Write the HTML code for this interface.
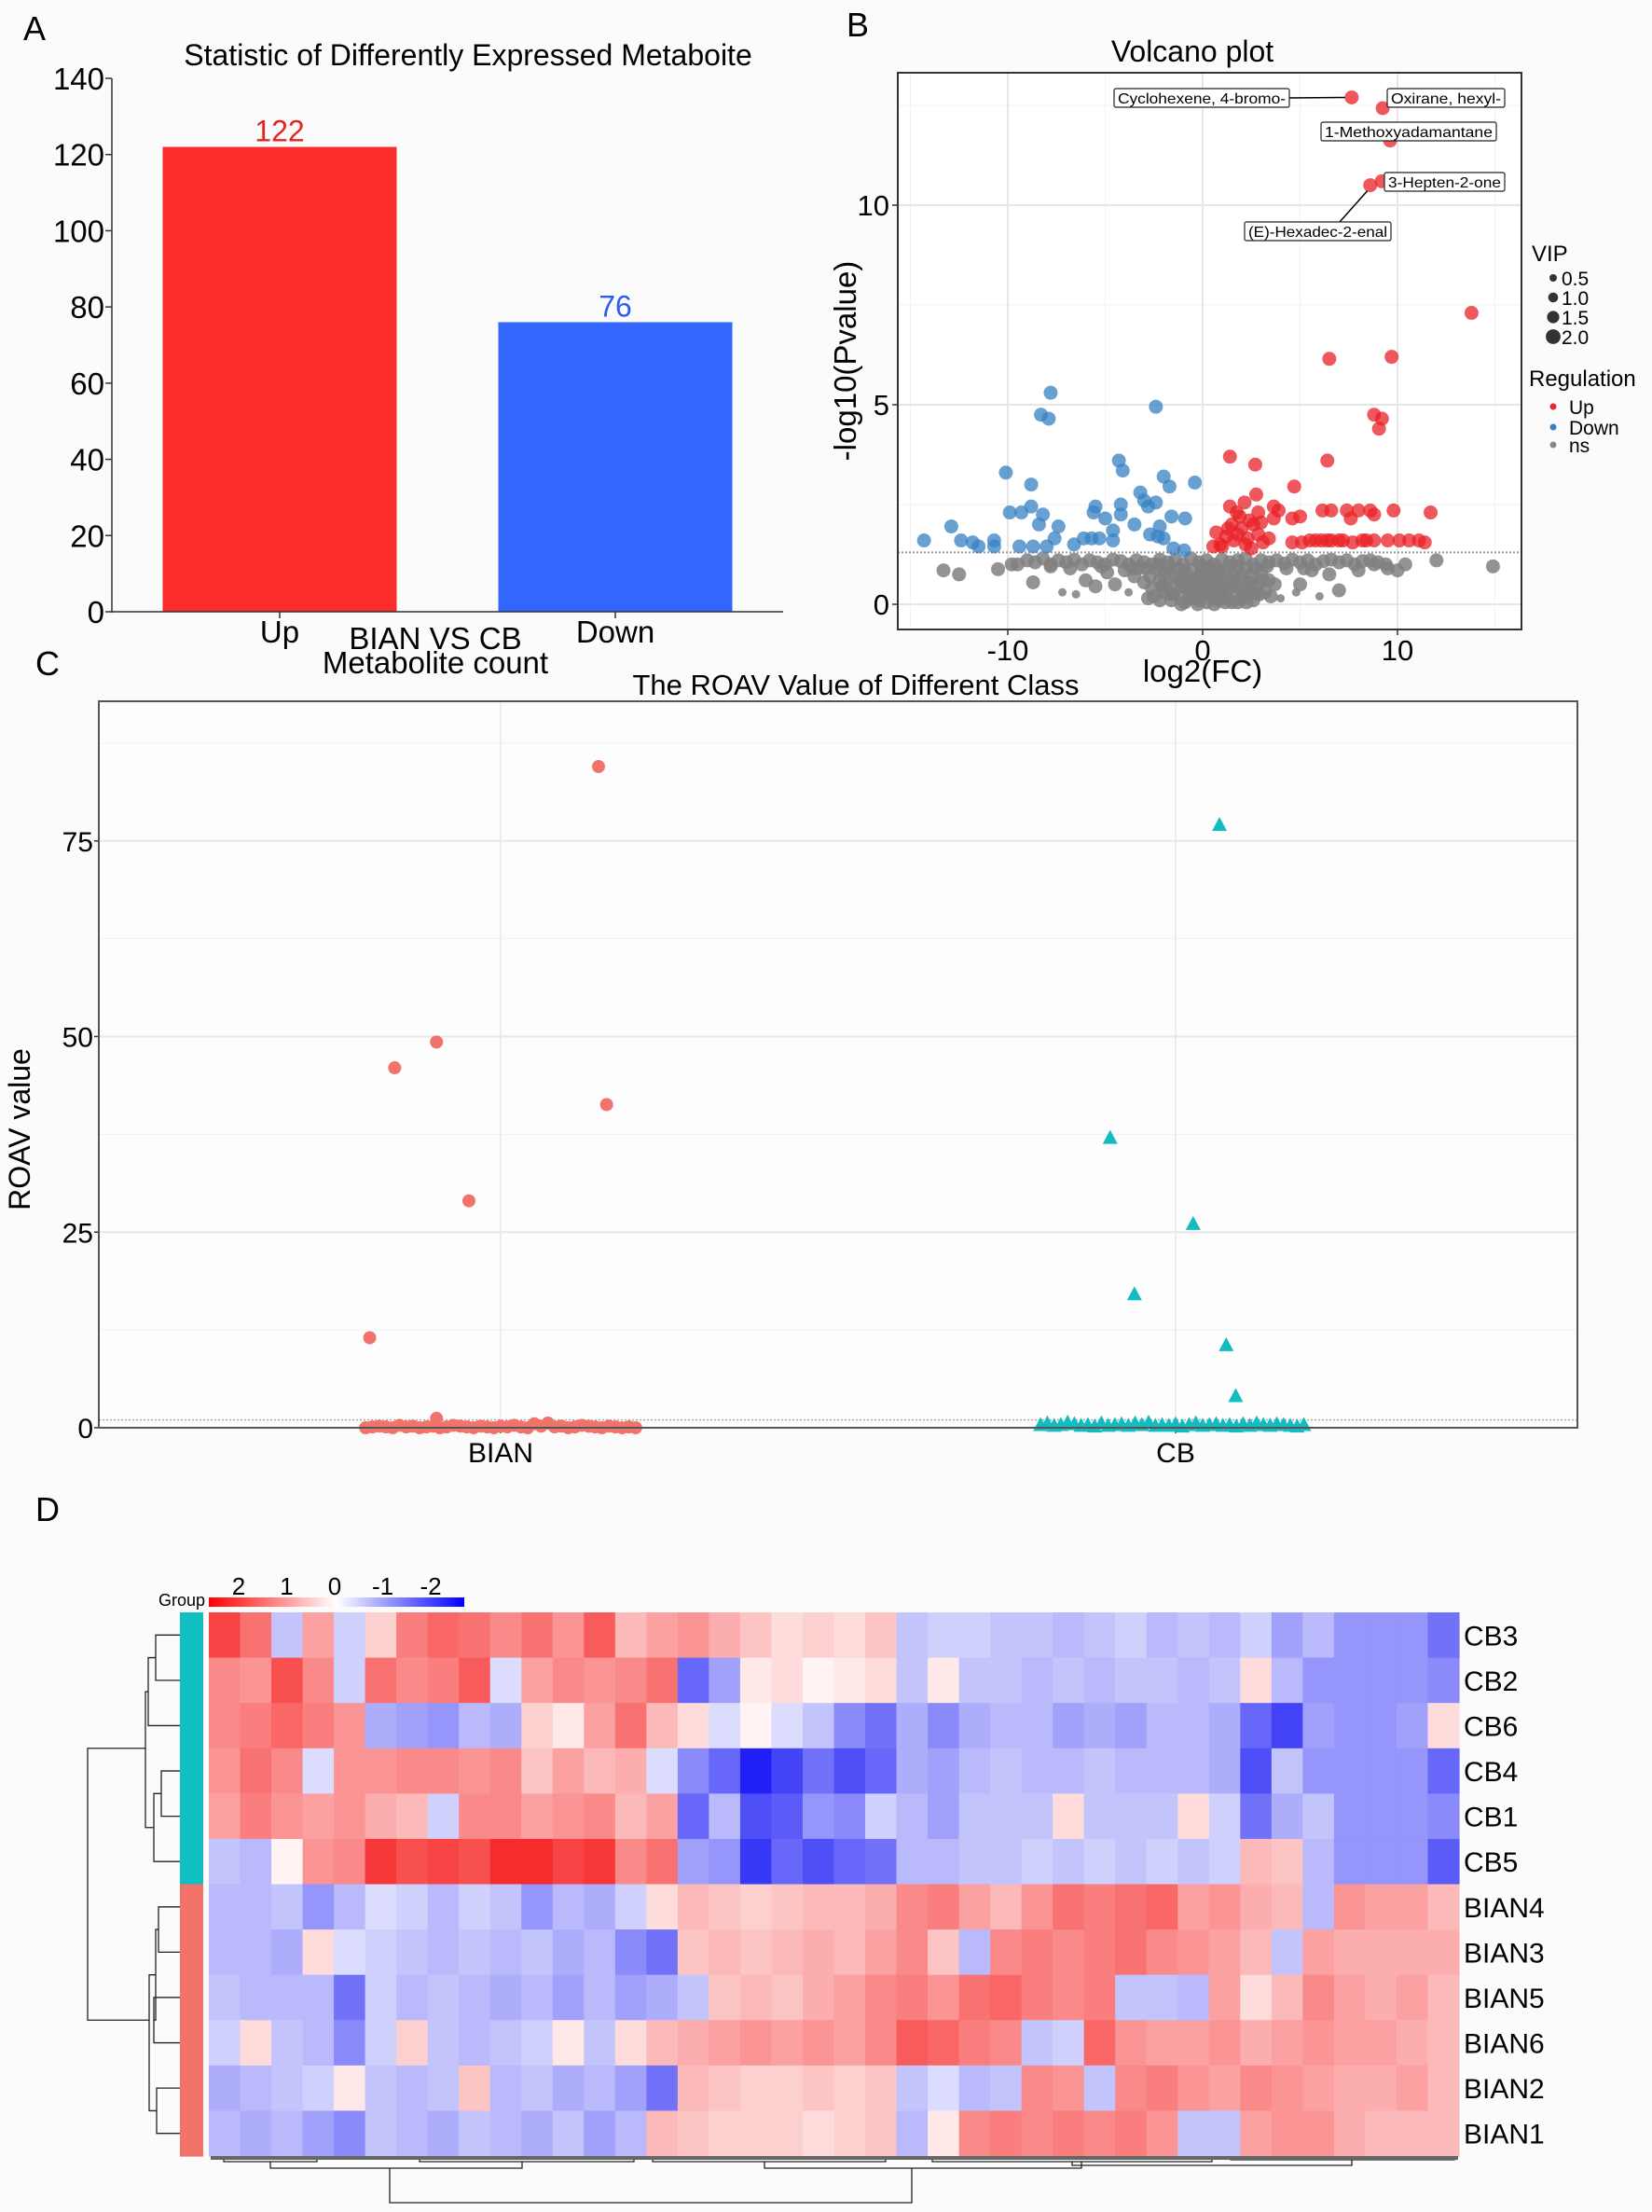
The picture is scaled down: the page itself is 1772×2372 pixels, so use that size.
<!DOCTYPE html>
<html><head><meta charset="utf-8"><title>Metabolite figure</title>
<style>
html,body{margin:0;padding:0;background:#fbfbfb;}
svg{display:block;font-family:"Liberation Sans",Arial,sans-serif;}
</style></head>
<body>
<svg id="fig" width="1772" height="2372" viewBox="0 0 1772 2372" xmlns="http://www.w3.org/2000/svg">
<rect x="0" y="0" width="1772" height="2372" fill="#fbfbfb"/>
<g id="pA"></g>
<g id="pB"></g>
<g id="pC"></g>
<g id="pD"></g>
</svg>
<script>
// ---------- Panel A data ----------
const barCats = ["Up", "Down"];
const barVals = [122, 76];
const barTicks = [0, 20, 40, 60, 80, 100, 120, 140];

// ---------- Panel B data ----------
const upX = [7.65, 9.24, 9.62, 9.19, 8.6, 13.8, 6.5, 9.7, 8.8, 9.2, 9.05, 6.4, 1.4, 2.7, 4.7, 2.75,
  1.4, 1.75, 2.15, 1.5, 2.0, 2.4, 1.2, 0.7, 0.55, 1.6, 2.3, 2.85, 3.4, 3.65, 3.9, 3.65, 4.6, 5.0, 2.85,
  4.6, 5.1, 5.5, 6.1, 6.6, 7.2, 7.7, 8.2, 8.8, 9.5, 10.1, 11.1, 11.4, 6.15, 6.6, 7.4, 7.6, 8.0, 8.6, 8.8,
  11.7, 9.8, 1.9, 2.2, 1.3, 2.6, 1.0, 3.1, 0.9, 1.8, 2.5, 3.0, 6.4, 7.0, 5.8, 10.6, 8.4];
const upY = [12.7, 12.43, 11.62, 10.6, 10.5, 7.3, 6.15, 6.2, 4.75, 4.65, 4.4, 3.6, 3.7, 3.5, 2.95, 2.75,
  2.45, 2.3, 2.55, 2.0, 1.9, 2.1, 1.7, 1.8, 1.45, 1.6, 1.65, 1.75, 1.65, 2.45, 2.35, 2.15, 2.15, 2.2, 2.3,
  1.55, 1.55, 1.6, 1.6, 1.6, 1.6, 1.55, 1.6, 1.6, 1.6, 1.6, 1.6, 1.55, 2.35, 2.35, 2.35, 2.15, 2.35, 2.35, 2.25,
  2.3, 2.35, 2.2, 1.5, 1.9, 2.0, 1.45, 1.55, 1.5, 1.75, 1.4, 2.05, 1.6, 1.6, 1.6, 1.6, 1.6];
const downX = [-7.8, -8.3, -7.9, -2.4, -4.3, -4.1, -10.1, -2.0, -1.7, -0.4, -8.8, -3.2, -9.9, -9.3, -8.8, -8.2,
  -8.4, -7.4, -7.6, -12.9, -14.3, -12.4, -11.8, -11.5, -10.7, -10.7, -9.4, -8.7, -8.0, -6.6, -6.1, -5.7, -5.5,
  -5.6, -5.0, -4.6, -4.2, -4.2, -3.5, -2.8, -2.4, -2.7, -2.3, -2.0, -1.6, -0.9, -1.5, -0.95, -4.6, -2.2, -5.3, -3.0];
const downY = [5.3, 4.75, 4.65, 4.95, 3.6, 3.35, 3.3, 3.2, 2.95, 3.05, 3.0, 2.8, 2.3, 2.3, 2.45, 2.25,
  2.0, 1.95, 1.65, 1.95, 1.6, 1.6, 1.55, 1.45, 1.6, 1.45, 1.45, 1.45, 1.45, 1.5, 1.65, 1.65, 2.45,
  2.3, 2.15, 1.85, 2.5, 2.25, 2.0, 2.45, 2.55, 1.75, 1.7, 1.65, 2.2, 2.15, 1.4, 1.35, 1.6, 1.95, 1.65, 2.6];
const nsX = [-13.3, -12.5, -10.5, -9.5, -9.0, -8.6, -8.2, -7.8, -7.4, -7.0, -6.6, -6.2, -5.8, -5.4, -5.0, -4.6,
  -4.2, -3.8, -3.4, -3.0, -2.6, -2.2, -1.8, -1.4, -1.0, -0.6, -0.2, 0.2, 0.6, 1.0, 1.4, 1.8, 2.2, 2.6, 3.0, 3.4,
  3.8, 4.2, 4.6, 5.0, 5.4, 5.8, 6.2, 6.6, 7.0, 7.4, 7.8, 8.2, 8.6, 9.0, 9.4, 12.0, 14.9, 10.0, 8.0, 6.5, 5.0, 4.8,
  6.0, 7.0, 3.7, 3.5, 4.0, 9.5, -8.7, -7.2, -6.5, -5.5, -6.0, -4.5, -3.8, -3.5, -2.8,
  -2.4, -2.2, -2.0, -1.8, -1.6, -1.5, -1.3, -1.2, -1.0, -0.9, -0.8, -0.6, -0.5, -0.4, -0.2, -0.1, 0.0, 0.2, 0.3,
  0.4, 0.5, 0.7, 0.8, 0.9, 1.1, 1.2, 1.3, 1.5, 1.6, 1.7, 1.9, 2.0, 2.2, 2.3, 2.5, 2.6, 2.8, 3.0, 3.2, -1.9, -0.7,
  0.1, 1.0, 1.8, -1.1, 0.6, -0.3, 2.4, -2.6, 3.4, -3.0, -2.9, 1.4, -1.4, 0.95, -0.05,
  -2.7, -2.5, -2.3, -2.1, -1.7, -1.5, -1.2, -0.95, -0.75, -0.45, -0.25, 0.05, 0.25, 0.45, 0.65, 0.85, 1.15, 1.35, 1.55, 1.75,
  2.05, 2.25, 2.45, 2.7, 2.9, 3.1, 3.3, -3.3, -2.0, -1.0, 0.0, 1.0, 2.0, -1.6, -0.4, 0.7, 1.7, 2.7, -2.2, 0.35,
  -4.0, -5.2, -6.8, -3.6, 4.3, 5.6, -7.8, -9.8, 8.8, 10.4, 5.2, -4.9];
const nsY = [0.85, 0.75, 0.88, 1.0, 1.1, 1.05, 1.15, 1.0, 1.1, 1.05, 1.12, 1.0, 1.1, 1.05, 1.0, 1.12,
  1.08, 1.0, 1.1, 1.05, 1.0, 1.12, 1.05, 1.1, 1.0, 1.15, 1.05, 1.1, 1.0, 1.12, 1.05, 1.1, 1.15, 1.0, 1.1, 1.05,
  1.1, 1.02, 1.12, 1.05, 1.1, 1.0, 1.08, 1.12, 1.05, 1.1, 1.0, 1.08, 1.1, 1.05, 1.0, 1.1, 0.95, 0.85, 0.85, 0.75, 0.5, 0.3,
  0.2, 0.35, 0.5, 0.2, 0.15, 0.9, 0.55, 0.3, 0.25, 0.45, 0.6, 0.5, 0.3, 0.7, 0.15,
  0.9, 0.6, 0.3, 0.8, 0.1, 0.5, 0.9, 0.3, 0.65, 0.05, 0.4, 0.85, 0.2, 0.55, 0.1, 0.75, 0.35, 0.05, 0.6,
  0.95, 0.25, 0.7, 0.1, 0.45, 0.85, 0.2, 0.55, 0.05, 0.75, 0.35, 0.6, 0.15, 0.9, 0.4, 0.7, 0.1, 0.5, 0.8, 0.3, 0.45, 0.15,
  0.45, 0.3, 0.05, 0.0, 0.0, 0.3, 0.25, 0.4, 0.6, 0.55, 0.9, 0.95, 0.7, 0.65, 0.95,
  0.7, 0.2, 1.0, 0.45, 0.95, 0.25, 0.6, 0.85, 0.55, 0.65, 0.0, 0.8, 0.2, 0.35, 0.5, 0.85, 0.05, 0.4, 0.65, 0.95,
  0.75, 0.05, 0.55, 0.9, 0.25, 0.6, 0.95, 0.9, 0.75, 0.45, 0.55, 0.15, 0.35, 0.25, 0.4, 0.9, 0.5, 0.3, 0.1, 0.8,
  0.85, 0.95, 0.9, 0.9, 0.9, 0.85, 0.95, 1.0, 1.0, 1.0, 0.9, 0.8];
const volXTicks = [-10, 0, 10];
const volYTicks = [0, 5, 10];
const labelNames = ["Cyclohexene, 4-bromo-", "Oxirane, hexyl-", "1-Methoxyadamantane", "3-Hepten-2-one", "(E)-Hexadec-2-enal"];

// ---------- Panel C data ----------
const roavCats = ["BIAN", "CB"];
const bianJit = [0.145, -0.095, -0.157, 0.157, -0.047, -0.194, -0.095,
  -0.2, -0.19, -0.18, -0.17, -0.16, -0.15, -0.14, -0.13, -0.12, -0.11, -0.1, -0.09, -0.08, -0.07, -0.06, -0.05, -0.04, -0.03,
  -0.02, -0.01, 0.0, 0.01, 0.02, 0.03, 0.04, 0.05, 0.06, 0.07, 0.08, 0.09, 0.1, 0.11, 0.12, 0.13, 0.14, 0.15, 0.16, 0.17, 0.18, 0.19, 0.2];
const bianVal = [84.5, 49.3, 46, 41.3, 29, 11.5, 1.2,
  0, 0.1, 0.2, 0.1, 0, 0.3, 0.1, 0.2, 0, 0.1, 0.2, 0, 0.1, 0.3, 0.2, 0.1, 0, 0.2,
  0.1, 0, 0.2, 0.1, 0.3, 0.1, 0, 0.5, 0.2, 0.6, 0.1, 0.2, 0, 0.1, 0.3, 0.2, 0.1, 0, 0.2, 0.1, 0, 0.1, 0];
const cbJit = [0.065, -0.097, 0.026, -0.061, 0.075, 0.089,
  -0.2, -0.19, -0.18, -0.17, -0.16, -0.15, -0.14, -0.13, -0.12, -0.11, -0.1, -0.09, -0.08, -0.07, -0.06, -0.05, -0.04, -0.03,
  -0.02, -0.01, 0.0, 0.01, 0.02, 0.03, 0.04, 0.05, 0.06, 0.07, 0.08, 0.09, 0.1, 0.11, 0.12, 0.13, 0.14, 0.15, 0.16, 0.17, 0.18, 0.19];
const cbVal = [77, 37, 26, 17, 10.5, 4,
  0.3, 0.5, 0.2, 0.3, 0.6, 0.4, 0.2, 0.3, 0.1, 0.5, 0.2, 0.3, 0.4, 0.2, 0.5, 0.3, 0.6, 0.2,
  0.3, 0.2, 0.4, 0.1, 0.3, 0.5, 0.2, 0.3, 0.4, 0.2, 0.3, 0.1, 0.4, 0.2, 0.5, 0.3, 0.2, 0.4, 0.3, 0.2, 0.1, 0.3];
const roavTicks = [0, 25, 50, 75];

// ---------- Panel D data ----------
const hmRows = ["CB3", "CB2", "CB6", "CB4", "CB1", "CB5", "BIAN4", "BIAN3", "BIAN5", "BIAN6", "BIAN2", "BIAN1"];
const hmCB3 = [1.6,1.2,-0.5,0.8,-0.4,0.4,1.1,1.3,1.2,1.0,1.2,0.9,1.4,0.6,0.8,0.9,0.7,0.5,0.3,0.4,0.3,0.5,-0.5,-0.4,-0.4,-0.5,-0.5,-0.6,-0.5,-0.4,-0.6,-0.5,-0.6,-0.4,-0.8,-0.6,-0.9,-0.9,-0.9,-1.2];
const hmCB2 = [1.0,0.9,1.5,1.0,-0.4,1.2,1.0,1.1,1.4,-0.3,0.8,1.0,0.9,1.0,1.2,-1.3,-0.8,0.2,0.3,0.1,0.2,0.3,-0.5,0.2,-0.5,-0.5,-0.6,-0.5,-0.6,-0.5,-0.5,-0.6,-0.5,0.3,-0.6,-0.9,-0.9,-0.9,-0.9,-1.0];
const hmCB6 = [1.0,1.1,1.3,1.1,0.9,-0.7,-0.8,-0.9,-0.6,-0.7,0.4,0.2,0.8,1.2,0.6,0.3,-0.3,0.1,-0.3,-0.5,-1.0,-1.2,-0.7,-1.0,-0.7,-0.6,-0.6,-0.8,-0.7,-0.8,-0.6,-0.6,-0.7,-1.3,-1.6,-0.8,-0.9,-0.9,-0.8,0.3];
const hmCB4 = [0.9,1.2,1.0,-0.3,0.9,0.9,1.0,1.0,0.9,1.0,0.5,0.8,0.6,0.7,-0.3,-1.0,-1.3,-1.9,-1.6,-1.2,-1.5,-1.3,-0.7,-0.8,-0.6,-0.5,-0.6,-0.6,-0.5,-0.6,-0.6,-0.6,-0.7,-1.5,-0.5,-0.9,-0.9,-0.9,-0.9,-1.3];
const hmCB1 = [0.8,1.1,0.9,0.8,0.9,0.7,0.6,-0.4,1.0,1.0,0.8,0.9,1.0,0.6,0.8,-1.3,-0.6,-1.5,-1.4,-0.9,-1.0,-0.4,-0.6,-0.8,-0.5,-0.5,-0.5,0.3,-0.5,-0.5,-0.5,0.3,-0.4,-1.2,-0.7,-0.5,-0.9,-0.9,-0.9,-1.0];
const hmCB5 = [-0.5,-0.6,0.1,0.9,1.0,1.7,1.5,1.6,1.5,1.8,1.8,1.6,1.7,1.0,1.2,-0.8,-0.9,-1.7,-1.3,-1.5,-1.3,-1.2,-0.6,-0.6,-0.5,-0.5,-0.4,-0.5,-0.4,-0.5,-0.4,-0.5,-0.4,0.6,0.5,-0.6,-0.9,-0.9,-0.9,-1.4];
const hmBIAN4 = [-0.6,-0.6,-0.5,-0.9,-0.6,-0.3,-0.4,-0.6,-0.4,-0.5,-0.9,-0.6,-0.7,-0.4,0.3,0.6,0.5,0.4,0.5,0.6,0.6,0.7,1.0,1.1,0.8,0.6,0.9,1.2,1.1,1.2,1.3,0.8,0.9,0.7,0.6,-0.6,0.9,0.8,0.8,0.6];
const hmBIAN3 = [-0.6,-0.6,-0.7,0.3,-0.3,-0.4,-0.5,-0.6,-0.5,-0.6,-0.5,-0.7,-0.6,-1.0,-1.2,0.5,0.6,0.5,0.6,0.7,0.6,0.8,1.0,0.5,-0.6,1.0,1.1,1.0,1.1,1.2,1.0,0.9,0.8,0.6,-0.5,0.8,0.7,0.7,0.7,0.7];
const hmBIAN5 = [-0.5,-0.6,-0.6,-0.6,-1.2,-0.4,-0.6,-0.5,-0.6,-0.7,-0.6,-0.8,-0.6,-0.8,-0.7,-0.5,0.5,0.6,0.5,0.7,0.8,1.0,1.1,0.9,1.2,1.3,1.1,1.0,1.1,-0.5,-0.5,-0.6,0.8,0.3,0.6,1.0,0.8,0.7,0.8,0.6];
const hmBIAN6 = [-0.4,0.3,-0.5,-0.6,-1.0,-0.4,0.4,-0.5,-0.6,-0.5,-0.4,0.2,-0.5,0.3,0.6,0.7,0.8,0.9,0.8,0.9,0.8,1.0,1.4,1.3,1.1,1.0,-0.5,-0.4,1.3,0.9,0.8,0.8,0.9,0.7,0.8,0.9,0.8,0.8,0.7,0.6];
const hmBIAN2 = [-0.7,-0.6,-0.5,-0.4,0.2,-0.5,-0.6,-0.5,0.5,-0.6,-0.5,-0.7,-0.6,-0.8,-1.2,0.6,0.5,0.4,0.4,0.5,0.4,0.5,-0.5,-0.3,-0.6,-0.5,1.0,0.9,-0.5,1.0,1.1,0.9,0.8,1.0,0.9,0.8,0.7,0.7,0.8,0.6];
const hmBIAN1 = [-0.6,-0.7,-0.6,-0.8,-1.0,-0.5,-0.6,-0.7,-0.5,-0.6,-0.7,-0.5,-0.8,-0.6,0.6,0.5,0.4,0.4,0.4,0.3,0.4,0.5,-0.6,0.2,1.0,1.1,1.0,1.1,1.0,1.1,0.9,-0.5,-0.5,0.8,0.9,0.9,0.7,0.6,0.6,0.6];
const hmGroups = ["CB","CB","CB","CB","CB","CB","BIAN","BIAN","BIAN","BIAN","BIAN","BIAN"];
const legendTicks = [2, 1, 0, -1, -2];

// ---------- helpers ----------
const NS = "http://www.w3.org/2000/svg";
function mk(parent, tag, attrs, text) {
  const e = document.createElementNS(NS, tag);
  for (const k in attrs) e.setAttribute(k, attrs[k]);
  if (text !== undefined) e.textContent = text;
  parent.appendChild(e);
  return e;
}

// ================= Panel A =================
(function () {
  const g = document.getElementById("pA");
  const y = v => 656 - v * (572 / 140);
  const xs = [300, 660];
  const bw = 251;
  let t = mk(g, "text", {x: 37, y: 43, "font-size": 36, "text-anchor": "middle"}, "A");
  
  
  t = mk(g, "text", {x: 502, y: 70, "font-size": 32, "text-anchor": "middle"}, "Statistic of Differently Expressed Metaboite");
  
  
  barTicks.forEach(v => {
    const tk = mk(g, "line", {x1: 113, x2: 120, y1: y(v), y2: y(v), stroke: "#333", "stroke-width": 1.5});
    
    
    const tl = mk(g, "text", {x: 112, y: y(v) + 12, "font-size": 33, "text-anchor": "end"}, String(v));
    
    
  });
  barCats.forEach((c, i) => {
    const col = i === 0 ? "#fa2d2b" : "#3366fe";
    const r = mk(g, "rect", {x: xs[i] - bw / 2, y: y(barVals[i]), width: bw, height: y(0) - y(barVals[i]), fill: col});
    
    
    const vl = mk(g, "text", {x: xs[i], y: y(barVals[i]) - 6, "font-size": 32, "text-anchor": "middle", fill: i === 0 ? "#e52420" : "#2a5ef0"}, String(barVals[i]));
    
    
    const xt = mk(g, "line", {x1: xs[i], x2: xs[i], y1: 656, y2: 663, stroke: "#333", "stroke-width": 1.5});
    
    
    const xl = mk(g, "text", {x: xs[i], y: 689, "font-size": 33, "text-anchor": "middle"}, c);
    
    
  });
  let a = mk(g, "line", {x1: 120, x2: 120, y1: 84, y2: 657, stroke: "#333", "stroke-width": 1.5});
  
  
  a = mk(g, "line", {x1: 119, x2: 840, y1: 656, y2: 656, stroke: "#333", "stroke-width": 1.5});
  
  
  t = mk(g, "text", {x: 467, y: 696, "font-size": 33, "text-anchor": "middle"}, "BIAN VS CB");
  
  
  t = mk(g, "text", {x: 467, y: 722, "font-size": 33, "text-anchor": "middle"}, "Metabolite count");
  
  
})();

// ================= Panel B =================
(function () {
  const g = document.getElementById("pB");
  const L = 963, R = 1632, T = 78, B = 675;
  const x = v => 1290 + v * 20.9;
  const y = v => 648 - v * 42.8;
  let t = mk(g, "text", {x: 920, y: 39, "font-size": 36, "text-anchor": "middle"}, "B");
  
  
  t = mk(g, "text", {x: 1279, y: 66, "font-size": 32, "text-anchor": "middle"}, "Volcano plot");
  
  
  const bg = mk(g, "rect", {x: L, y: T, width: R - L, height: B - T, fill: "#ffffff"});
  
  
  [-15, -5, 5, 15].forEach(v => {
    const gl = mk(g, "line", {x1: x(v), x2: x(v), y1: T, y2: B, stroke: "#f2f2f2", "stroke-width": 1});
    
    
  });
  [2.5, 7.5, 12.5].forEach(v => {
    const gl = mk(g, "line", {x1: L, x2: R, y1: y(v), y2: y(v), stroke: "#f2f2f2", "stroke-width": 1});
    
    
  });
  volXTicks.forEach(v => {
    const gl = mk(g, "line", {x1: x(v), x2: x(v), y1: T, y2: B, stroke: "#e6e6e6", "stroke-width": 2});
    
    
    const tk = mk(g, "line", {x1: x(v), x2: x(v), y1: B, y2: B + 6, stroke: "#333", "stroke-width": 1.5});
    
    
    const tl = mk(g, "text", {x: x(v), y: B + 33, "font-size": 31, "text-anchor": "middle"}, String(v));
    
    
  });
  volYTicks.forEach(v => {
    const gl = mk(g, "line", {x1: L, x2: R, y1: y(v), y2: y(v), stroke: "#e6e6e6", "stroke-width": 2});
    
    
    const tk = mk(g, "line", {x1: L - 6, x2: L, y1: y(v), y2: y(v), stroke: "#333", "stroke-width": 1.5});
    
    
    const tl = mk(g, "text", {x: L - 9, y: y(v) + 11, "font-size": 31, "text-anchor": "end"}, String(v));
    
    
  });
  nsX.forEach((v, i) => {
    const small = nsY[i] < 0.32 && Math.abs(v) > 3.5;
    const c = mk(g, "circle", {cx: x(v), cy: y(nsY[i]), r: small ? 4.5 : 7.5, fill: "rgba(128,128,128,0.85)"});
    
    
  });
  const thr = mk(g, "line", {x1: L, x2: R, y1: y(1.3), y2: y(1.3), stroke: "#999", "stroke-width": 2, "stroke-dasharray": "2,2"});
  
  
  downX.forEach((v, i) => {
    const c = mk(g, "circle", {cx: x(v), cy: y(downY[i]), r: 7.5, fill: "rgba(55,128,195,0.75)"});
    
    
  });
  upX.forEach((v, i) => {
    const c = mk(g, "circle", {cx: x(v), cy: y(upY[i]), r: 7.5, fill: "rgba(232,32,38,0.75)"});
    
    
  });
  const boxes = [[1195, 95, 188], [1488, 95, 126], [1417, 131, 188], [1485, 185, 129], [1335, 238, 157]];
  const ln1 = mk(g, "line", {x1: 1383, y1: 105, x2: x(upX[0]) - 7, y2: y(upY[0]), stroke: "#000", "stroke-width": 1.5});
  
  
  const ln2 = mk(g, "line", {x1: 1437, y1: 238, x2: x(upX[4]) - 3, y2: y(upY[4]) + 6, stroke: "#000", "stroke-width": 1.5});
  
  
  labelNames.forEach((n, i) => {
    const b = boxes[i];
    const r = mk(g, "rect", {x: b[0], y: b[1], width: b[2], height: 20, fill: "#fff", stroke: "#222", "stroke-width": 1.2, rx: 2});
    
    
    const tx = mk(g, "text", {x: b[0] + b[2] / 2, y: b[1] + 16, "font-size": 16, "text-anchor": "middle", textLength: b[2] - 8, lengthAdjust: "spacingAndGlyphs"}, n);
    
    
  });
  const fr = mk(g, "rect", {x: L, y: T, width: R - L, height: B - T, fill: "none", stroke: "#333", "stroke-width": 2});
  
  
  t = mk(g, "text", {x: 1290, y: 731, "font-size": 33, "text-anchor": "middle"}, "log2(FC)");
  
  
  t = mk(g, "text", {x: 918, y: 387, "font-size": 33, "text-anchor": "middle", transform: "rotate(-90 918 387)"}, "-log10(Pvalue)");
  
  
  t = mk(g, "text", {x: 1643, y: 280, "font-size": 24}, "VIP");
  
  
  ["0.5", "1.0", "1.5", "2.0"].forEach((s, i) => {
    const cy = 298 + i * 21;
    const c = mk(g, "circle", {cx: 1666, cy: cy, r: 4 + i * 1.3, fill: "#333"});
    
    
    const tx = mk(g, "text", {x: 1675, y: cy + 8, "font-size": 21}, s);
    
    
  });
  t = mk(g, "text", {x: 1640, y: 414, "font-size": 24}, "Regulation");
  
  
  [["Up", "#e8262b", 436], ["Down", "#3780c3", 458], ["ns", "#888", 477]].forEach(d => {
    const c = mk(g, "circle", {cx: 1666, cy: d[2], r: 3.5, fill: d[1]});
    
    
    const tx = mk(g, "text", {x: 1683, y: d[2] + 8, "font-size": 21}, d[0]);
    
    
  });
})();

// ================= Panel C =================
(function () {
  const g = document.getElementById("pC");
  const L = 106, R = 1692, T = 752, B = 1531;
  const cx = i => 537 + i * 724;
  const y = v => B - v * 8.39;
  let t = mk(g, "text", {x: 51, y: 724, "font-size": 36, "text-anchor": "middle"}, "C");
  
  
  t = mk(g, "text", {x: 918, y: 745, "font-size": 31, "text-anchor": "middle"}, "The ROAV Value of Different Class");
  
  
  const bg = mk(g, "rect", {x: L, y: T, width: R - L, height: B - T, fill: "#fdfdfd"});
  
  
  [12.5, 37.5, 62.5, 87.5].forEach(v => {
    const gl = mk(g, "line", {x1: L, x2: R, y1: y(v), y2: y(v), stroke: "#f1f1f1", "stroke-width": 1});
    
    
  });
  roavTicks.forEach(v => {
    const gl = mk(g, "line", {x1: L, x2: R, y1: y(v), y2: y(v), stroke: "#e8e8e8", "stroke-width": 2});
    
    
    const tk = mk(g, "line", {x1: L - 5, x2: L, y1: y(v), y2: y(v), stroke: "#333", "stroke-width": 1.5});
    
    
    const tl = mk(g, "text", {x: L - 6, y: y(v) + 11, "font-size": 30, "text-anchor": "end"}, String(v));
    
    
  });
  roavCats.forEach((c, i) => {
    const gl = mk(g, "line", {x1: cx(i), x2: cx(i), y1: T, y2: B, stroke: "#e8e8e8", "stroke-width": 1.5});
    
    
    const tk = mk(g, "line", {x1: cx(i), x2: cx(i), y1: B, y2: B + 6, stroke: "#333", "stroke-width": 1.5});
    
    
    const tl = mk(g, "text", {x: cx(i), y: B + 37, "font-size": 30, "text-anchor": "middle"}, c);
    
    
  });
  const thr = mk(g, "line", {x1: L, x2: R, y1: y(1), y2: y(1), stroke: "#aaa", "stroke-width": 1.5, "stroke-dasharray": "2,2"});
  
  
  bianJit.forEach((j, i) => {
    const c = mk(g, "circle", {cx: cx(0) + j * 724, cy: y(bianVal[i]), r: 7, fill: "#f0746b"});
    
    
  });
  cbJit.forEach((j, i) => {
    const px = cx(1) + j * 724, py = y(cbVal[i]);
    const p = mk(g, "polygon", {points: `${px},${py - 9} ${px - 8},${py + 6} ${px + 8},${py + 6}`, fill: "#14bcc0"});
    
    
  });
  const fr = mk(g, "rect", {x: L, y: T, width: R - L, height: B - T, fill: "none", stroke: "#555", "stroke-width": 2});
  
  
  t = mk(g, "text", {x: 32, y: 1211, "font-size": 32, "text-anchor": "middle", transform: "rotate(-90 32 1211)"}, "ROAV value");
  
  
})();

// ================= Panel D =================
(function () {
  const g = document.getElementById("pD");
  const L = 224, R = 1565, T = 1729, B = 2312;
  const rowsData = [hmCB3, hmCB2, hmCB6, hmCB4, hmCB1, hmCB5, hmBIAN4, hmBIAN3, hmBIAN5, hmBIAN6, hmBIAN2, hmBIAN1];
  const rh = (B - T) / hmRows.length;
  const nc = hmCB3.length;
  const cw = (R - L) / nc;
  function col(v) {
    const s = Math.max(-2, Math.min(2, v)) / 2;
    if (s >= 0) {
      const k = Math.round(255 * (1 - 0.92 * s));
      return `rgb(${Math.round(255 - 10 * s)},${k},${k})`;
    } else {
      const k = Math.round(255 * (1 + 0.92 * s));
      return `rgb(${k},${k},${Math.round(255 + 10 * s)})`;
    }
  }
  let t = mk(g, "text", {x: 51, y: 1631, "font-size": 36, "text-anchor": "middle"}, "D");
  
  
  rowsData.forEach((row, r) => {
    row.forEach((v, c) => {
      const cell = mk(g, "rect", {x: L + c * cw, y: T + r * rh, width: cw + 0.6, height: rh + 0.6, fill: col(v)});
      
      
    });
    const gb = mk(g, "rect", {x: 193, y: T + r * rh, width: 25, height: rh + 0.6, fill: hmGroups[r] === "CB" ? "#10bfc2" : "#f2736a"});
    
    
    const lb = mk(g, "text", {x: 1570, y: T + r * rh + rh / 2 + 11, "font-size": 30}, hmRows[r]);
    
    
  });
  const defs = mk(g, "defs", {});
  const lg = mk(defs, "linearGradient", {id: "hmgrad", x1: "0", x2: "1", y1: "0", y2: "0"});
  mk(lg, "stop", {offset: "0", "stop-color": "#ff0000"});
  mk(lg, "stop", {offset: "0.5", "stop-color": "#ffffff"});
  mk(lg, "stop", {offset: "1", "stop-color": "#0000ff"});
  const lb = mk(g, "rect", {x: 224, y: 1713, width: 274, height: 10, fill: "url(#hmgrad)"});
  
  
  legendTicks.forEach((v, i) => {
    const tx = mk(g, "text", {x: 256 + i * 51.5, y: 1710, "font-size": 26, "text-anchor": "middle"}, String(v));
    
    
  });
  t = mk(g, "text", {x: 220, y: 1722, "font-size": 18, "text-anchor": "end"}, "Group");
  
  
  const rc = i => T + rh * (i + 0.5);
  const dp = [
    `M193,${rc(0)} H167 V${rc(1)} H193`,
    `M167,${(rc(0) + rc(1)) / 2} H159 V${rc(2)} H193`,
    `M193,${rc(3)} H173 V${rc(4)} H193`,
    `M173,${(rc(3) + rc(4)) / 2} H165 V${rc(5)} H193`,
    `M159,${(rc(0) + rc(1) + 2 * rc(2)) / 4} H156 V${(rc(3) + rc(4) + 2 * rc(5)) / 4} H165`,
    `M193,${rc(6)} H170 V${rc(7)} H193`,
    `M193,${rc(8)} H165 V${rc(9)} H193`,
    `M170,${(rc(6) + rc(7)) / 2} H167 V${(rc(8) + rc(9)) / 2} H165`,
    `M193,${rc(10)} H168 V${rc(11)} H193`,
    `M167,${(rc(6) + rc(9)) / 2} H160 V${(rc(10) + rc(11)) / 2} H168`,
    `M156,${(rc(1) + rc(4)) / 2} H94 V${(rc(7) + rc(10)) / 2} H160`
  ];
  dp.forEach(d => {
    const p = mk(g, "path", {d: d, fill: "none", stroke: "#222", "stroke-width": 1.3});
    
    
  });
  const cd = [
    "M418,2325 V2362 H978 V2325",
    "M290,2318 V2325 H560 V2318",
    "M820,2318 V2325 H1160 V2318",
    "M240,2313 V2318 H340 V2313", "M450,2313 V2318 H680 V2313",
    "M700,2313 V2318 H950 V2313", "M1000,2313 V2318 H1300 V2313",
    "M1150,2318 V2322 H1450 V2313", "M1320,2313 V2316 H1560 V2313"
  ];
  cd.forEach(d => {
    const p = mk(g, "path", {d: d, fill: "none", stroke: "#222", "stroke-width": 1.3});
    
    
  });
  const hatch = mk(g, "rect", {x: 226, y: 2312, width: 1338, height: 4, fill: "#666"});
  
  
})();
</script>
</body></html>
